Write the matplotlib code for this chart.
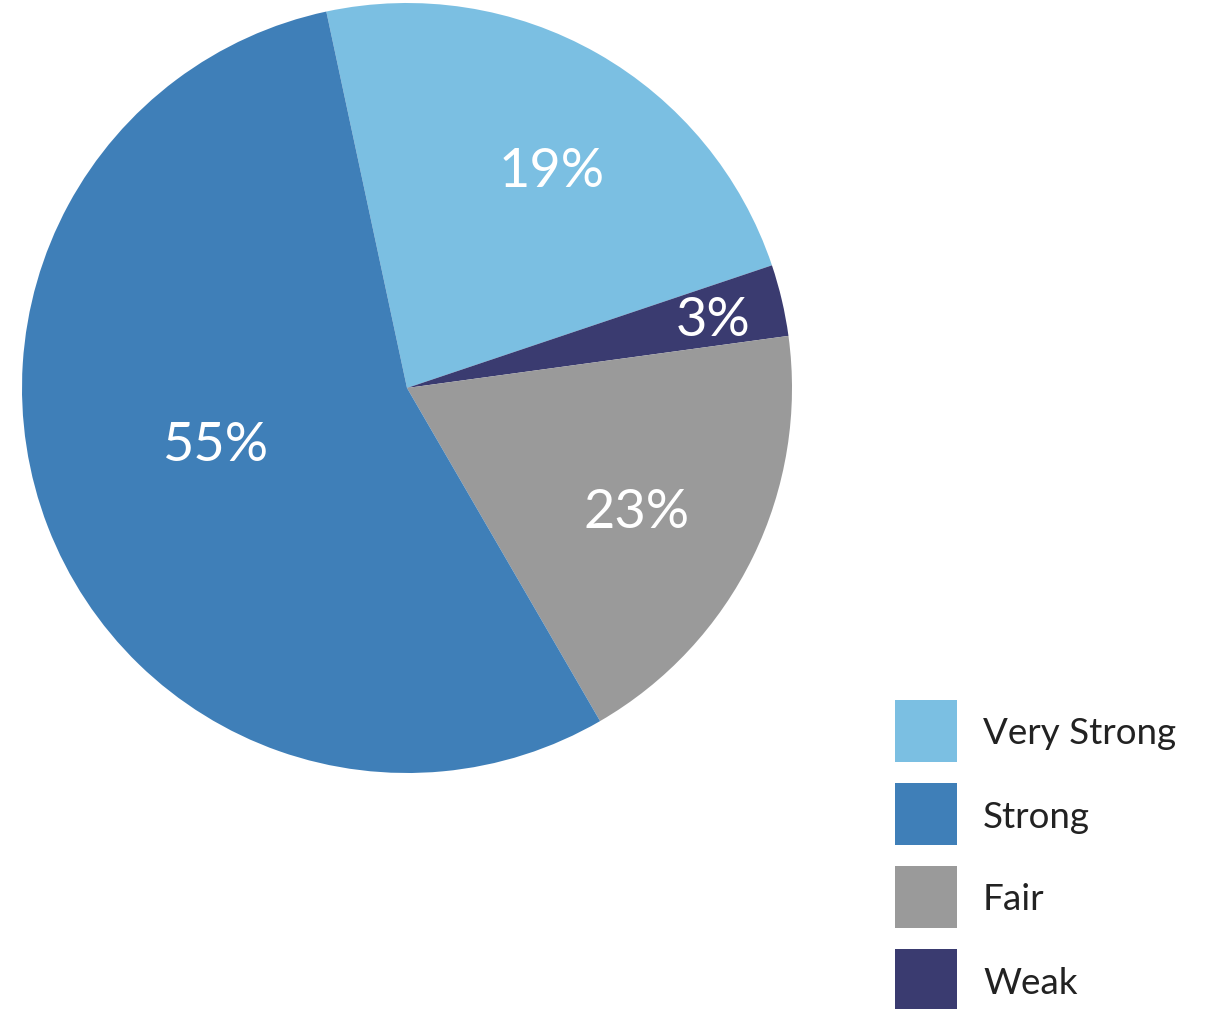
import numpy as np
import matplotlib
matplotlib.use("Agg")
import matplotlib.pyplot as plt
from matplotlib.patches import Rectangle

# Data (slice order clockwise from top)
categories = ["Very Strong", "Weak", "Fair", "Strong"]
slice_sizes = [23.2, 3.0, 18.8, 55.0]          # sizes as drawn in the reference
slice_labels = ["19%", "3%", "23%", "55%"]    # text printed on slices
colors = ["#7BBFE2", "#3A3B70", "#9A9A9A", "#3F7FB8"]
legend_order = ["Very Strong", "Strong", "Fair", "Weak"]

# label placement (radius fraction, angle offset in degrees)
label_r = [0.68, 0.815, 0.675, 0.52]
label_dang = [-3.8, -0.4, -2.0, -5.0]

W, H = 1207, 1009
fig = plt.figure(figsize=(W / 100, H / 100), dpi=100)
cx, cy, R = 407, 388, 385
ax = fig.add_axes([(cx - R) / W, (H - cy - R) / H, 2 * R / W, 2 * R / H])

wedges, _ = ax.pie(slice_sizes, colors=colors, startangle=102.1,
                   counterclock=False, radius=1.0,
                   wedgeprops=dict(linewidth=0))
ax.set_xlim(-1, 1)
ax.set_ylim(-1, 1)
ax.set_aspect("equal")
ax.axis("off")

for w, lab, rf, da in zip(wedges, slice_labels, label_r, label_dang):
    mid = np.deg2rad((w.theta1 + w.theta2) / 2 + da)
    ax.text(rf * np.cos(mid), rf * np.sin(mid) - 0.005, lab, ha="center",
            va="center", color="white", fontsize=39,
            family=["Lato", "DejaVu Sans"], fontweight="normal")

# legend drawn manually (square swatches with labels)
sq, step, x0, y0 = 62, 83, 895, 700
for i, name in enumerate(legend_order):
    col = colors[categories.index(name)]
    top = y0 + i * step
    fig.patches.append(Rectangle((x0 / W, 1 - (top + sq) / H), sq / W, sq / H,
                                 transform=fig.transFigure, facecolor=col,
                                 edgecolor="none"))
    fig.text(983 / W, 1 - (top + sq / 2 + 3) / H, name, ha="left",
             va="center", fontsize=26.5, family=["Lato", "DejaVu Sans"],
             color="#222222")

fig.savefig("out.png", dpi=100, facecolor="white")
